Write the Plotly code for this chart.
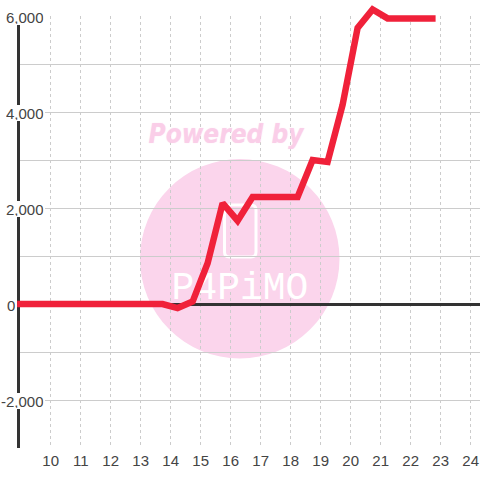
import plotly.graph_objects as go

hours = [8.88, 9.23, 9.73, 10.23, 10.73, 11.23, 11.73, 12.23, 12.73, 13.23, 13.73, 14.23, 14.73, 15.23, 15.73, 16.23, 16.73,
         17.23, 17.73, 18.23, 18.73, 19.23, 19.73, 20.23, 20.73, 21.23, 21.73, 22.23, 22.83]
values = [0, 0, 0, 0, 0, 0, 0, 0, 0, 0, 0, -85, 50, 850, 2100, 1735, 2230,
          2230, 2230, 2230, 3000, 2960, 4150, 5750, 6135, 5950, 5950, 5950, 5950]
x_ticks = list(range(10, 25))
y_ticks = [6000, 4000, 2000, 0, -2000]
y_grid_step = 1000
watermark_title = "Powered by"
watermark_brand = "P4PiMO"

S = 480
L, T, R, B = 20, 16, 480, 448
X0 = 10 - 30.7 / 30
X1 = X0 + (R - L) / 30
XF = X0 - L / 30
Y0, Y1 = -3000, 6000
YF = Y1 + T * (Y1 - Y0) / (B - T)
YB = Y0 - (S - B) * (Y1 - Y0) / (B - T)


def dx(px):
    return X0 + (px - L) / (R - L) * (X1 - X0)


def dy(py):
    return Y1 - (py - T) / (B - T) * (Y1 - Y0)


def phone_path(x0, y0, x1, y1, r):
    return (f"M{dx(x0 + r)},{dy(y0)} L{dx(x1 - r)},{dy(y0)} Q{dx(x1)},{dy(y0)} {dx(x1)},{dy(y0 + r)} "
            f"L{dx(x1)},{dy(y1 - r)} Q{dx(x1)},{dy(y1)} {dx(x1 - r)},{dy(y1)} "
            f"L{dx(x0 + r)},{dy(y1)} Q{dx(x0)},{dy(y1)} {dx(x0)},{dy(y1 - r)} "
            f"L{dx(x0)},{dy(y0 + r)} Q{dx(x0)},{dy(y0)} {dx(x0 + r)},{dy(y0)} Z")


fig = go.Figure()
fig.add_trace(go.Scatter(
    x=[dx(226)], y=[dy(136)], mode="text", text=[watermark_title], hoverinfo="skip",
    textfont=dict(family="DejaVu Sans Condensed, DejaVu Sans", size=26, color="rgba(250,203,231,0.8)",
                  weight="bold", style="italic", shadow="0 0 1px rgba(250,203,231,0.9)"),
    textposition="middle center", cliponaxis=False))
fig.add_trace(go.Scatter(
    x=[dx(240)], y=[dy(289)], mode="text", text=[watermark_brand], hoverinfo="skip",
    textfont=dict(family="Liberation Mono", size=38, color="white"),
    textposition="middle center", cliponaxis=False))
fig.add_trace(go.Scatter(
    x=hours, y=values, xaxis="x2", yaxis="y2", mode="lines", hoverinfo="skip",
    line=dict(color="#F0213A", width=6.5)))

fig.add_shape(type="circle", xref="paper", yref="paper", layer="below",
              x0=140 / S, x1=339.5 / S, y0=(S - 358.5) / S, y1=(S - 159) / S,
              fillcolor="#FBD5EC", line_width=0)
fig.add_shape(type="path", xref="x", yref="y", layer="below", path=phone_path(224.5, 205, 256, 257, 5),
              line=dict(color="white", width=3))

for v in y_ticks:
    fig.add_annotation(
        xref="paper", yref="y", x=L / S, y=v, text=f"{v:,}", showarrow=False, xanchor="right",
        xshift=25 if v else -4, yshift=-1, height=14, bgcolor="white", borderpad=1, borderwidth=0,
        font=dict(family="Liberation Sans", size=15, color="#444"))

fig.update_layout(
    width=S, height=S, autosize=False, showlegend=False,
    margin=dict(l=0, r=0, t=0, b=0, pad=0),
    paper_bgcolor="white", plot_bgcolor="rgba(0,0,0,0)",
    xaxis=dict(domain=[L / S, 1], range=[X0, X1], tickvals=x_ticks, ticktext=[str(t) for t in x_ticks], showgrid=True,
               gridcolor="#ccc", griddash="3px,3px", gridwidth=1, zeroline=False, showline=False,
               ticks="", ticklen=0, ticklabelstandoff=2,
               tickfont=dict(family="Liberation Sans", size=15, color="#444")),
    yaxis=dict(domain=[(S - B) / S, (S - T) / S], range=[Y0, Y1], tick0=0, dtick=y_grid_step, showticklabels=False,
               showgrid=True, gridcolor="#ccc", gridwidth=1, zeroline=True, zerolinecolor="#333", zerolinewidth=3,
               showline=True, linecolor="#333", linewidth=3, ticks=""),
    xaxis2=dict(domain=[0, 1], range=[XF, X1], visible=False, anchor="y2"),
    yaxis2=dict(domain=[0, 1], range=[YB, YF], visible=False, anchor="x2"),
)
fig.write_html("out.html", config={"displayModeBar": False},
               post_script="document.documentElement.style.overflow='hidden';document.body.style.margin='0';")
